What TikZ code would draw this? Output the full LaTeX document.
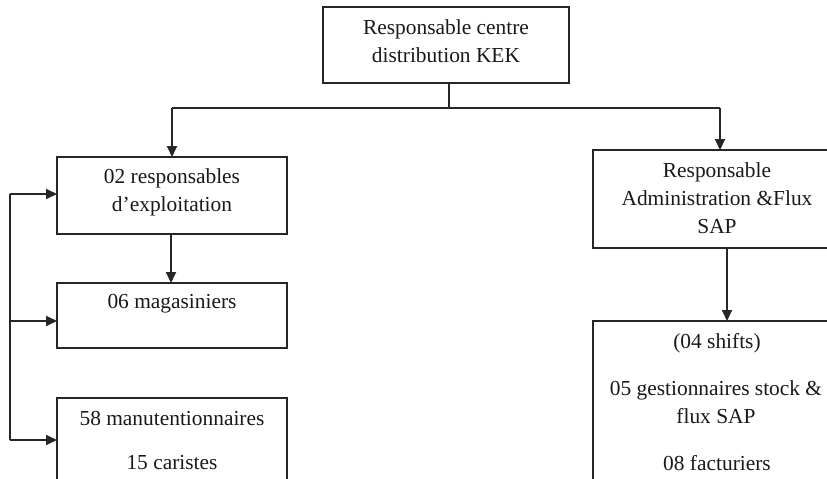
\documentclass[tikz,border=0pt]{standalone}
\usepackage{fontspec}
\setmainfont{Liberation Serif}
\usetikzlibrary{arrows.meta}
\begin{document}
\begin{tikzpicture}[x=1pt,y=-1pt,
  box/.style={draw=black!85, line width=1.9pt},
  lbl/.style={inner sep=0pt, align=center, font=\fontsize{21.4}{28}\selectfont, text=black!90},
  link/.style={draw=black!85, line width=1.8pt},
  arr/.style={link, -{Triangle[length=11pt,width=10pt]}}]
\useasboundingbox (0,0) rectangle (827,479);
\clip (0,0) rectangle (827,479);
\fill[white] (0,0) rectangle (827,479);

% boxes
\draw[box] (323,7) rectangle (569,83);
\draw[box] (57,157) rectangle (287,234);
\draw[box] (57,283) rectangle (287,348);
\draw[box] (57,398) rectangle (287,520);
\draw[box] (593,150) rectangle (860,248);
\draw[box] (593,321) rectangle (860,520);

% named anchor points on the box edges
\coordinate (topS) at (449,83);
\coordinate (split) at (449,108);
\coordinate (splitL) at (172,108);
\coordinate (splitR) at (720,108);
\coordinate (exN) at (172,157);
\coordinate (exS) at (171,234);
\coordinate (magN) at (171,283);
\coordinate (adN) at (720,150);
\coordinate (adS) at (727,248);
\coordinate (shN) at (727,321);
\coordinate (busT) at (10,194);
\coordinate (busM) at (10,321);
\coordinate (busB) at (10,440);
\coordinate (exW) at (57,194);
\coordinate (magW) at (57,321);
\coordinate (manW) at (57,440);

% texts
\node[lbl] (tTop) at (446,41) {Responsable centre\\distribution KEK};
\node[lbl] (tEx) at (172,192) {02 responsables\\d'exploitation};
\node[lbl] (tMag) at (172,304) {06 magasiniers};
\node[lbl] (tMan) at (172,418) {58 manutentionnaires};
\node[lbl] (tCar) at (172,463) {15 caristes};
\node[lbl] (tAd) at (717,198) {Responsable\\Administration \&Flux\\SAP};
\node[lbl] (tSh) at (717,343) {(04 shifts)};
\node[lbl] (tGe) at (716,402) {05 gestionnaires stock \&\\flux SAP};
\node[lbl] (tFa) at (717,463) {08 facturiers};

% connectors
\draw[link] (topS) -- (split);
\draw[link] (splitL) -- (splitR);
\draw[arr] (splitL) -- (exN);
\draw[arr] (splitR) -- (adN);
\draw[arr] (exS) -- (magN);
\draw[arr] (adS) -- (shN);
\draw[link] (busT) -- (busB);
\draw[arr] (busT) -- (exW);
\draw[arr] (busM) -- (magW);
\draw[arr] (busB) -- (manW);
\end{tikzpicture}
\end{document}
